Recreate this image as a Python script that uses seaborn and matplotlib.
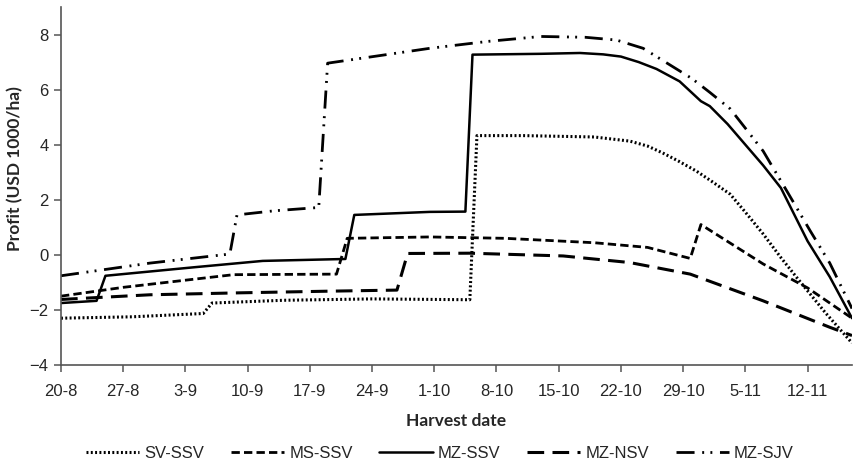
import matplotlib
matplotlib.use("Agg")
import matplotlib.pyplot as plt
import seaborn as sns

# harvest day counted from 20 Aug, profit in USD 1000/ha
sv_ssv_days = [0, 8, 16, 17, 25, 35, 46, 46.8, 52, 60, 64, 66, 67.7, 69.5, 71.5, 73.3, 75.3, 77, 79, 81, 82.8, 86, 89]
sv_ssv_vals = [-2.3, -2.25, -2.13, -1.75, -1.65, -1.6, -1.63, 4.33, 4.33, 4.28, 4.13, 3.95, 3.7, 3.4, 3.04, 2.65, 2.2, 1.55, 0.76, -0.1, -0.83, -2.1, -3.2]

ms_ssv_days = [0, 7, 19.4, 31, 32.2, 41.5, 50, 60, 66, 70.8, 72, 79, 84, 89]
ms_ssv_vals = [-1.5, -1.18, -0.72, -0.7, 0.6, 0.65, 0.6, 0.44, 0.27, -0.13, 1.1, -0.33, -1.2, -2.3]

mz_ssv_days = [0, 4, 5, 15, 22.7, 32, 33, 41.5, 45.5, 46.3, 54, 58.4, 61, 63, 65, 67, 69.6, 72, 73, 75, 77, 79, 81, 84, 86.5, 89]
mz_ssv_vals = [-1.75, -1.67, -0.76, -0.45, -0.22, -0.15, 1.45, 1.56, 1.57, 7.27, 7.3, 7.33, 7.28, 7.2, 7.0, 6.75, 6.3, 5.58, 5.4, 4.75, 4.0, 3.25, 2.43, 0.5, -0.8, -2.3]

mz_nsv_days = [0, 10, 20, 30, 37.8, 39, 46, 56.5, 64, 70.8, 79, 86.5, 89]
mz_nsv_vals = [-1.62, -1.45, -1.38, -1.32, -1.28, 0.05, 0.06, -0.04, -0.28, -0.7, -1.67, -2.63, -2.93]

mz_sjv_days = [0, 10, 19, 19.8, 24, 29, 30, 41.5, 48, 54, 59, 62.5, 64, 65.5, 68, 71, 73, 75.3, 77, 79, 81.7, 84.3, 86.5, 89]
mz_sjv_vals = [-0.76, -0.3, 0.03, 1.45, 1.6, 1.72, 6.96, 7.5, 7.75, 7.93, 7.9, 7.8, 7.65, 7.5, 7.0, 6.4, 5.9, 5.3, 4.6, 3.77, 2.3, 0.87, -0.3, -1.95]

tick_days = [0, 7, 14, 21, 28, 35, 42, 49, 56, 63, 70, 77, 84]
tick_labels = ["20-8", "27-8", "3-9", "10-9", "17-9", "24-9", "1-10", "8-10",
               "15-10", "22-10", "29-10", "5-11", "12-11"]

series = [
    ("SV-SSV", sv_ssv_days, sv_ssv_vals, (0, (1.4, 1.7)), 2.2, "butt"),
    ("MS-SSV", ms_ssv_days, ms_ssv_vals, (0, (6, 3)), 2.0, "butt"),
    ("MZ-SSV", mz_ssv_days, mz_ssv_vals, "-", 1.8, "butt"),
    ("MZ-NSV", mz_nsv_days, mz_nsv_vals, (0, (12, 6)), 2.2, "butt"),
    ("MZ-SJV", mz_sjv_days, mz_sjv_vals, (0, (13, 5.5, 1.4, 4.5, 1.4, 5.5)), 2.0, "butt"),
]

sns.set_style("ticks")
plt.rcParams["font.family"] = ["Liberation Sans", "DejaVu Sans"]
plt.rcParams["lines.scale_dashes"] = False

fig = plt.figure(figsize=(8.55, 4.63), dpi=100)
ax = fig.add_axes([61 / 855, 1 - 365 / 463, 791 / 855, 358 / 463])

for name, days, vals, ls, lw, cap in series:
    sns.lineplot(x=days, y=vals, ax=ax, color="black", linestyle=ls,
                 linewidth=lw, label=name, sort=False, estimator=None,
                 dash_capstyle=cap)

ax.set_xlim(0, 89)
ax.set_ylim(-4, 9)
ax.set_yticks([-4, -2, 0, 2, 4, 6, 8])
ax.set_xticks(tick_days)
ax.set_xticklabels(tick_labels)
ax.tick_params(axis="both", labelsize=12, length=5, width=1.1, color="#555555")
ax.tick_params(axis="x", pad=9)
ax.tick_params(axis="y", pad=4)

for side in ["top", "right"]:
    ax.spines[side].set_visible(False)
for side in ["left", "bottom"]:
    ax.spines[side].set_color("#555555")
    ax.spines[side].set_linewidth(1.2)

ax.set_xlabel("Harvest date", fontsize=12.5, fontweight="bold", family="Lato")
ax.set_ylabel("Profit (USD 1000/ha)", fontsize=12.5, fontweight="bold", family="Lato")
ax.xaxis.set_label_coords(0.5, (365 - 421) / 358)
ax.xaxis.label.set_va("center")
ax.yaxis.set_label_coords((15 - 61) / 791, (365 - 169) / 358)
ax.yaxis.label.set_va("center")

ax.get_legend().remove()
handles, labels = ax.get_legend_handles_labels()
fig.legend(handles, labels, loc="center", ncol=5, frameon=False, fontsize=12,
           bbox_to_anchor=(440 / 855, 1 - 453 / 463), handlelength=3.2,
           handletextpad=0.3, columnspacing=1.6)

fig.savefig("out.png", dpi=100)
